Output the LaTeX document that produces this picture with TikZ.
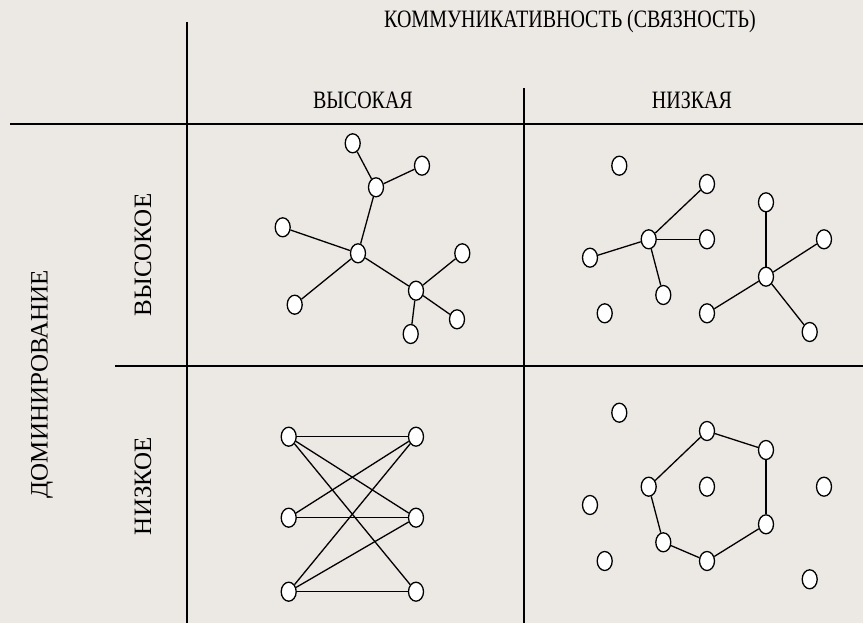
\documentclass[tikz,border=0pt]{standalone}
\usepackage{fontspec}
\setmainfont{Liberation Serif}
\newfontfamily\narrowfont{Liberation Serif}[FakeStretch=0.8]
\usetikzlibrary{shapes.geometric}
\definecolor{paper}{RGB}{236,232,228}

\begin{document}
\begin{tikzpicture}[x=1pt, y=-1pt,
	vertex/.style={draw, ellipse, fill=white, line width=1.3pt, minimum width=15pt, minimum height=19pt, inner sep=0pt},
	grid/.style={line width=1.6pt},
	edge/.style={line width=1.3pt},
	head/.style={font=\narrowfont\fontsize{25}{25}\selectfont, inner sep=0pt},
	side/.style={font=\fontsize{25}{25}\selectfont, inner sep=0pt, rotate=90}]
	\fill[paper] (0,0) rectangle (863,623);
	\useasboundingbox (0,0) rectangle (863,623);
	% table
	\coordinate (vt) at (187,22);
	\coordinate (vb) at (187,623);
	\coordinate (mt) at (524,88);
	\coordinate (mb) at (524,623);
	\coordinate (hl) at (10,124);
	\coordinate (hr) at (863,124);
	\coordinate (ll) at (115,366);
	\coordinate (lr) at (863,366);
	\draw[grid] (vt) -- (vb);
	\draw[grid] (mt) -- (mb);
	\draw[grid] (hl) -- (hr);
	\draw[grid] (ll) -- (lr);
	\node[head] (comm) at (570,21) {КОММУНИКАТИВНОСТЬ (СВЯЗНОСТЬ)};
	\node[head] (high) at (363,100) {ВЫСОКАЯ};
	\node[head] (low) at (692,100) {НИЗКАЯ};
	\node[side] (dom) at (42,384) {ДОМИНИРОВАНИЕ};
	\node[side] (dhigh) at (143,255) {ВЫСОКОЕ};
	\node[side] (dlow) at (143,486) {НИЗКОЕ};
	% high / high
	\node[vertex] (a1) at (352.7,143.3) {};
	\node[vertex] (a2) at (422,165.7) {};
	\node[vertex] (a3) at (376,187.3) {};
	\node[vertex] (a4) at (282.7,227.3) {};
	\node[vertex] (a5) at (358,253.3) {};
	\node[vertex] (a6) at (294.7,304.7) {};
	\node[vertex] (a7) at (416,290.7) {};
	\node[vertex] (a8) at (462.3,253.3) {};
	\node[vertex] (a9) at (457,319.3) {};
	\node[vertex] (a10) at (410.7,334) {};
	\draw[edge] (a1) -- (a3);
	\draw[edge] (a3) -- (a2);
	\draw[edge] (a3) -- (a5);
	\draw[edge] (a4) -- (a5);
	\draw[edge] (a5) -- (a6);
	\draw[edge] (a5) -- (a7);
	\draw[edge] (a7) -- (a8);
	\draw[edge] (a7) -- (a9);
	\draw[edge] (a7) -- (a10);
	% high / low
	\node[vertex] (b1) at (619.3,165.7) {};
	\node[vertex] (b2) at (707,184) {};
	\node[vertex] (b3) at (648.7,239.3) {};
	\node[vertex] (b4) at (707,239.3) {};
	\node[vertex] (b5) at (590,257.7) {};
	\node[vertex] (b6) at (663.3,295) {};
	\node[vertex] (b7) at (604.7,313.3) {};
	\node[vertex] (c1) at (766,202.3) {};
	\node[vertex] (c2) at (824,239.3) {};
	\node[vertex] (c3) at (766,276.7) {};
	\node[vertex] (c4) at (707,313.3) {};
	\node[vertex] (c5) at (809.7,332) {};
	\draw[edge] (b3) -- (b2);
	\draw[edge] (b3) -- (b4);
	\draw[edge] (b3) -- (b5);
	\draw[edge] (b3) -- (b6);
	\draw[edge] (c3) -- (c1);
	\draw[edge] (c3) -- (c2);
	\draw[edge] (c3) -- (c4);
	\draw[edge] (c3) -- (c5);
	% low / high
	\node[vertex] (l1) at (288.7,436.7) {};
	\node[vertex] (l2) at (288.7,517.7) {};
	\node[vertex] (l3) at (288.7,591.7) {};
	\node[vertex] (r1) at (416,436.7) {};
	\node[vertex] (r2) at (416,517.7) {};
	\node[vertex] (r3) at (416,591.7) {};
	\draw[edge] (l1) -- (r1);
	\draw[edge] (l1) -- (r2);
	\draw[edge] (l1) -- (r3);
	\draw[edge] (l2) -- (r1);
	\draw[edge] (l2) -- (r2);
	\draw[edge] (l3) -- (r1);
	\draw[edge] (l3) -- (r2);
	\draw[edge] (l3) -- (r3);
	% low / low
	\node[vertex] (i1) at (619.3,412.7) {};
	\node[vertex] (i2) at (824,486.7) {};
	\node[vertex] (i3) at (590,505) {};
	\node[vertex] (i4) at (604.7,561) {};
	\node[vertex] (i5) at (809.7,579.3) {};
	\node[vertex] (ctr) at (707,486.7) {};
	\node[vertex] (h1) at (707,431) {};
	\node[vertex] (h2) at (766,450) {};
	\node[vertex] (h3) at (648.7,486.7) {};
	\node[vertex] (h4) at (766,524.3) {};
	\node[vertex] (h5) at (663.3,542.3) {};
	\node[vertex] (h6) at (707,561) {};
	\draw[edge] (h1) -- (h2);
	\draw[edge] (h2) -- (h4);
	\draw[edge] (h4) -- (h6);
	\draw[edge] (h6) -- (h5);
	\draw[edge] (h5) -- (h3);
	\draw[edge] (h3) -- (h1);
\end{tikzpicture}
\end{document}
